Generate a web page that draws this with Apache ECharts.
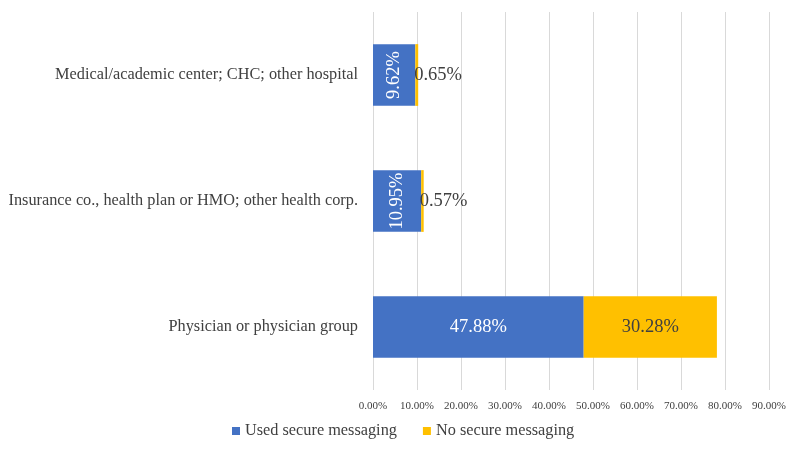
<!DOCTYPE html>
<html><head><meta charset="utf-8">
<script src="https://cdn.jsdelivr.net/npm/echarts@6/dist/echarts.min.js"></script>
<style>html,body{margin:0;padding:0;background:#fff}#c{width:800px;height:450px}</style>
</head><body><div id="c"></div>
<script>
const categories = ['Physician or physician group', 'Insurance co., health plan or HMO; other health corp.', 'Medical/academic center; CHC; other hospital'];
const usedSecure = [47.88, 10.95, 9.62];
const noSecure = [30.28, 0.57, 0.65];
const seriesNames = ['Used secure messaging', 'No secure messaging'];
const font = '"Liberation Serif", "Times New Roman", serif';
const chart = echarts.init(document.getElementById('c'));
chart.setOption({
  animation: false,
  textStyle: { fontFamily: font },
  grid: { left: 373, right: 31, top: 12, bottom: 60 },
  legend: {
    bottom: 6, left: 227, itemWidth: 8, itemHeight: 8, itemGap: 26,
    icon: 'rect',
    textStyle: { fontFamily: font, fontSize: 16.3, color: '#404040' },
    data: seriesNames
  },
  xAxis: {
    type: 'value', min: 0, max: 90, interval: 10,
    axisLabel: { formatter: v => v.toFixed(2) + '%', fontFamily: font, fontSize: 11, color: '#404040', margin: 11 },
    splitLine: { lineStyle: { color: '#d9d9d9' } },
    axisLine: { show: false }, axisTick: { show: false }
  },
  yAxis: {
    type: 'category', data: categories,
    axisLabel: { fontFamily: font, fontSize: 16.3, color: '#404040', margin: 15 },
    axisLine: { show: false }, axisTick: { show: false }
  },
  series: [
    {
      name: seriesNames[0], type: 'bar', stack: 's', barWidth: '49%',
      itemStyle: { color: '#4472C4' },
      data: usedSecure.map((v, i) => ({
        value: v,
        label: v < 20 ? { show: true, rotate: 90, position: 'inside' } : { show: true, position: 'inside' }
      })),
      label: { show: true, color: '#fff', fontFamily: font, fontSize: 18.5, formatter: p => p.value.toFixed(2) + '%' }
    },
    {
      name: seriesNames[1], type: 'bar', stack: 's', barWidth: '49%',
      itemStyle: { color: '#FFC000' },
      data: noSecure.map(v => ({
        value: v,
        label: v < 5 ? { show: true, position: 'right', distance: -4 } : { show: true, position: 'inside' }
      })),
      label: { show: true, color: '#404040', fontFamily: font, fontSize: 18.5, formatter: p => p.value.toFixed(2) + '%' }
    }
  ]
});
</script></body></html>
